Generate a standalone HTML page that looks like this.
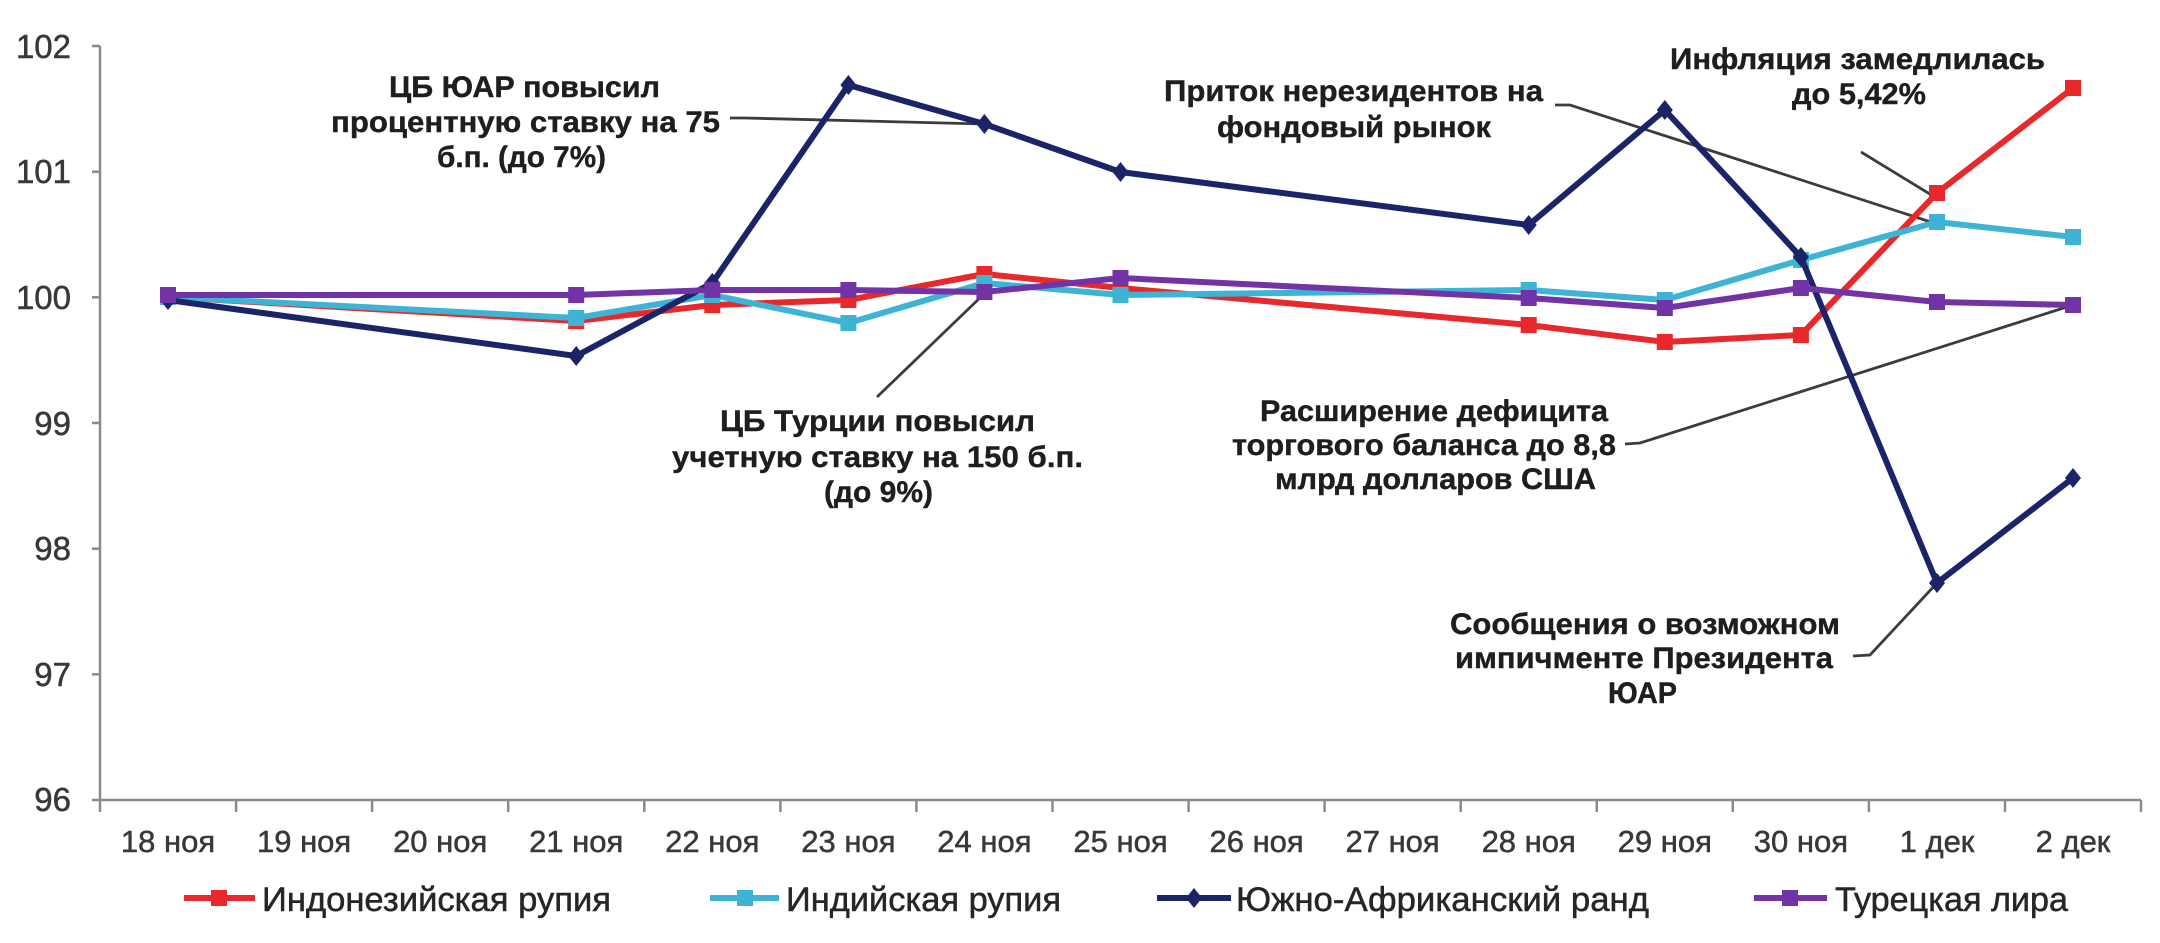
<!DOCTYPE html>
<html>
<head>
<meta charset="utf-8">
<style>
html,body{margin:0;padding:0;background:#fff;}
svg{display:block;}
text{font-family:"Liberation Sans","Noto Sans CJK SC",sans-serif;}
.yl{font-size:33px;fill:#383838;stroke:#383838;stroke-width:0.5;text-anchor:end;}
.xl{font-size:31px;fill:#383838;stroke:#383838;stroke-width:0.5;text-anchor:middle;}
.lg{font-size:34px;fill:#262626;stroke:#262626;stroke-width:0.5;}
.an{font-size:30px;font-weight:bold;fill:#1e1e1e;stroke:#1e1e1e;stroke-width:0.4;text-anchor:middle;}
</style>
</head>
<body>
<svg width="2160" height="943" viewBox="0 0 2160 943" xmlns="http://www.w3.org/2000/svg">
<rect x="0" y="0" width="2160" height="943" fill="#fff"/>

<!-- axes -->
<g stroke="#8a8a8a" stroke-width="2.5" fill="none">
  <line x1="100" y1="46" x2="100" y2="801"/>
  <line x1="99" y1="800" x2="2141" y2="800"/>
  <line x1="92" y1="46" x2="100" y2="46"/>
  <line x1="92" y1="171.7" x2="100" y2="171.7"/>
  <line x1="92" y1="297.3" x2="100" y2="297.3"/>
  <line x1="92" y1="423" x2="100" y2="423"/>
  <line x1="92" y1="548.7" x2="100" y2="548.7"/>
  <line x1="92" y1="674.3" x2="100" y2="674.3"/>
  <line x1="92" y1="800" x2="100" y2="800"/>
  <line x1="100" y1="800" x2="100" y2="812"/>
  <line x1="236.1" y1="800" x2="236.1" y2="812"/>
  <line x1="372.1" y1="800" x2="372.1" y2="812"/>
  <line x1="508.2" y1="800" x2="508.2" y2="812"/>
  <line x1="644.3" y1="800" x2="644.3" y2="812"/>
  <line x1="780.4" y1="800" x2="780.4" y2="812"/>
  <line x1="916.4" y1="800" x2="916.4" y2="812"/>
  <line x1="1052.5" y1="800" x2="1052.5" y2="812"/>
  <line x1="1188.6" y1="800" x2="1188.6" y2="812"/>
  <line x1="1324.6" y1="800" x2="1324.6" y2="812"/>
  <line x1="1460.7" y1="800" x2="1460.7" y2="812"/>
  <line x1="1596.8" y1="800" x2="1596.8" y2="812"/>
  <line x1="1732.8" y1="800" x2="1732.8" y2="812"/>
  <line x1="1868.9" y1="800" x2="1868.9" y2="812"/>
  <line x1="2005" y1="800" x2="2005" y2="812"/>
  <line x1="2141" y1="800" x2="2141" y2="812"/>
</g>

<!-- y labels -->
<text class="yl" x="71" y="58">102</text>
<text class="yl" x="71" y="183">101</text>
<text class="yl" x="71" y="309">100</text>
<text class="yl" x="71" y="435">99</text>
<text class="yl" x="71" y="560">98</text>
<text class="yl" x="71" y="686">97</text>
<text class="yl" x="71" y="811">96</text>

<!-- x labels -->
<g>
<text class="xl" x="168" y="852">18 ноя</text>
<text class="xl" x="304.1" y="852">19 ноя</text>
<text class="xl" x="440.2" y="852">20 ноя</text>
<text class="xl" x="576.2" y="852">21 ноя</text>
<text class="xl" x="712.3" y="852">22 ноя</text>
<text class="xl" x="848.4" y="852">23 ноя</text>
<text class="xl" x="984.4" y="852">24 ноя</text>
<text class="xl" x="1120.5" y="852">25 ноя</text>
<text class="xl" x="1256.6" y="852">26 ноя</text>
<text class="xl" x="1392.6" y="852">27 ноя</text>
<text class="xl" x="1528.7" y="852">28 ноя</text>
<text class="xl" x="1664.8" y="852">29 ноя</text>
<text class="xl" x="1800.9" y="852">30 ноя</text>
<text class="xl" x="1937" y="852">1 дек</text>
<text class="xl" x="2073" y="852">2 дек</text>
</g>

<!-- leader lines -->
<g stroke="#3c3c3c" stroke-width="2.8" fill="none">
  <polyline points="730,118 745,118 984,124"/>
  <line x1="877" y1="397" x2="985" y2="293"/>
  <polyline points="1555,105 1570,105 1937,224"/>
  <line x1="1861" y1="152" x2="1938" y2="199"/>
  <polyline points="1625,444 1640,443 2073,305"/>
  <polyline points="1853,656 1870,655 1937,583"/>
</g>

<!-- series: red -->
<polyline fill="none" stroke="#e8282b" stroke-width="6" stroke-linejoin="round"
 points="168,297 576.2,321 712.3,305 848.4,300 984.4,274 1120.5,288 1528.7,325 1664.8,342 1800.9,335 1937,193 2073,88"/>
<g fill="#e8282b">
 <rect x="160" y="289" width="16" height="16"/>
 <rect x="568.2" y="313" width="16" height="16"/>
 <rect x="704.3" y="297" width="16" height="16"/>
 <rect x="840.4" y="292" width="16" height="16"/>
 <rect x="976.4" y="266" width="16" height="16"/>
 <rect x="1112.5" y="280" width="16" height="16"/>
 <rect x="1520.7" y="317" width="16" height="16"/>
 <rect x="1656.8" y="334" width="16" height="16"/>
 <rect x="1792.9" y="327" width="16" height="16"/>
 <rect x="1929" y="185" width="16" height="16"/>
 <rect x="2065" y="80" width="16" height="16"/>
</g>

<!-- series: cyan -->
<polyline fill="none" stroke="#3db4d4" stroke-width="6" stroke-linejoin="round"
 points="168,297 576.2,318 712.3,295 848.4,323 984.4,283 1120.5,295 1528.7,290 1664.8,300 1800.9,260 1937,222 2073,237"/>
<g fill="#3db4d4">
 <rect x="160" y="289" width="16" height="16"/>
 <rect x="568.2" y="310" width="16" height="16"/>
 <rect x="704.3" y="287" width="16" height="16"/>
 <rect x="840.4" y="315" width="16" height="16"/>
 <rect x="976.4" y="275" width="16" height="16"/>
 <rect x="1112.5" y="287" width="16" height="16"/>
 <rect x="1520.7" y="282" width="16" height="16"/>
 <rect x="1656.8" y="292" width="16" height="16"/>
 <rect x="1792.9" y="252" width="16" height="16"/>
 <rect x="1929" y="214" width="16" height="16"/>
 <rect x="2065" y="229" width="16" height="16"/>
</g>

<!-- series: navy -->
<polyline fill="none" stroke="#1b2468" stroke-width="6" stroke-linejoin="round"
 points="168,300 576.2,356 712.3,283 848.4,85 984.4,124 1120.5,172 1528.7,225 1664.8,110 1800.9,257 1937,583 2073,478"/>
<g fill="#1b2468">
 <polygon points="168,290 176,300 168,310 160,300"/>
 <polygon points="576.2,346 584.2,356 576.2,366 568.2,356"/>
 <polygon points="712.3,273 720.3,283 712.3,293 704.3,283"/>
 <polygon points="848.4,75 856.4,85 848.4,95 840.4,85"/>
 <polygon points="984.4,114 992.4,124 984.4,134 976.4,124"/>
 <polygon points="1120.5,162 1128.5,172 1120.5,182 1112.5,172"/>
 <polygon points="1528.7,215 1536.7,225 1528.7,235 1520.7,225"/>
 <polygon points="1664.8,100 1672.8,110 1664.8,120 1656.8,110"/>
 <polygon points="1800.9,247 1808.9,257 1800.9,267 1792.9,257"/>
 <polygon points="1937,573 1945,583 1937,593 1929,583"/>
 <polygon points="2073,468 2081,478 2073,488 2065,478"/>
</g>

<!-- series: purple -->
<polyline fill="none" stroke="#7233a6" stroke-width="6" stroke-linejoin="round"
 points="168,295 576.2,295 712.3,290 848.4,290 984.4,292 1120.5,278 1528.7,298 1664.8,308 1800.9,288 1937,302 2073,305"/>
<g fill="#7233a6">
 <rect x="160" y="287" width="16" height="16"/>
 <rect x="568.2" y="287" width="16" height="16"/>
 <rect x="704.3" y="282" width="16" height="16"/>
 <rect x="840.4" y="282" width="16" height="16"/>
 <rect x="976.4" y="284" width="16" height="16"/>
 <rect x="1112.5" y="270" width="16" height="16"/>
 <rect x="1520.7" y="290" width="16" height="16"/>
 <rect x="1656.8" y="300" width="16" height="16"/>
 <rect x="1792.9" y="280" width="16" height="16"/>
 <rect x="1929" y="294" width="16" height="16"/>
 <rect x="2065" y="297" width="16" height="16"/>
</g>

<!-- annotations -->
<text class="an" x="524.5" y="97" textLength="271" lengthAdjust="spacingAndGlyphs">ЦБ ЮАР повысил</text>
<text class="an" x="525.5" y="132" textLength="389" lengthAdjust="spacingAndGlyphs">процентную ставку на 75</text>
<text class="an" x="521.5" y="167" textLength="169" lengthAdjust="spacingAndGlyphs">б.п. (до 7%)</text>

<text class="an" x="877.5" y="431" textLength="315" lengthAdjust="spacingAndGlyphs">ЦБ Турции повысил</text>
<text class="an" x="877.5" y="467" textLength="411" lengthAdjust="spacingAndGlyphs">учетную ставку на 150 б.п.</text>
<text class="an" x="878.5" y="502" textLength="109" lengthAdjust="spacingAndGlyphs">(до 9%)</text>

<text class="an" x="1353.5" y="101" textLength="379" lengthAdjust="spacingAndGlyphs">Приток нерезидентов на</text>
<text class="an" x="1354" y="137" textLength="274" lengthAdjust="spacingAndGlyphs">фондовый рынок</text>

<text class="an" x="1857.5" y="69" textLength="375" lengthAdjust="spacingAndGlyphs">Инфляция замедлилась</text>
<text class="an" x="1859" y="104" textLength="134" lengthAdjust="spacingAndGlyphs">до 5,42%</text>

<text class="an" x="1434" y="421" textLength="348" lengthAdjust="spacingAndGlyphs">Расширение дефицита</text>
<text class="an" x="1424" y="455" textLength="384" lengthAdjust="spacingAndGlyphs">торгового баланса до 8,8</text>
<text class="an" x="1435.5" y="489" textLength="321" lengthAdjust="spacingAndGlyphs">млрд долларов США</text>

<text class="an" x="1645" y="634" textLength="390" lengthAdjust="spacingAndGlyphs">Сообщения о возможном</text>
<text class="an" x="1644" y="668" textLength="378" lengthAdjust="spacingAndGlyphs">импичменте Президента</text>
<text class="an" x="1642.5" y="703" textLength="69" lengthAdjust="spacingAndGlyphs">ЮАР</text>

<!-- legend -->
<line x1="184" y1="898" x2="255" y2="898" stroke="#e8282b" stroke-width="6"/>
<rect x="211" y="890" width="16" height="16" fill="#e8282b"/>
<text class="lg" x="262" y="911" textLength="349" lengthAdjust="spacingAndGlyphs">Индонезийская рупия</text>

<line x1="710" y1="898" x2="779" y2="898" stroke="#3db4d4" stroke-width="6"/>
<rect x="737" y="890" width="16" height="16" fill="#3db4d4"/>
<text class="lg" x="786" y="911" textLength="275" lengthAdjust="spacingAndGlyphs">Индийская рупия</text>

<line x1="1157" y1="898" x2="1231" y2="898" stroke="#1b2468" stroke-width="6"/>
<polygon points="1194,888 1202,898 1194,908 1186,898" fill="#1b2468"/>
<text class="lg" x="1236" y="911" textLength="413" lengthAdjust="spacingAndGlyphs">Южно-Африканский ранд</text>

<line x1="1754" y1="898" x2="1827" y2="898" stroke="#7233a6" stroke-width="6"/>
<rect x="1782" y="890" width="16" height="16" fill="#7233a6"/>
<text class="lg" x="1835" y="911" textLength="233" lengthAdjust="spacingAndGlyphs">Турецкая лира</text>
</svg>
</body>
</html>
